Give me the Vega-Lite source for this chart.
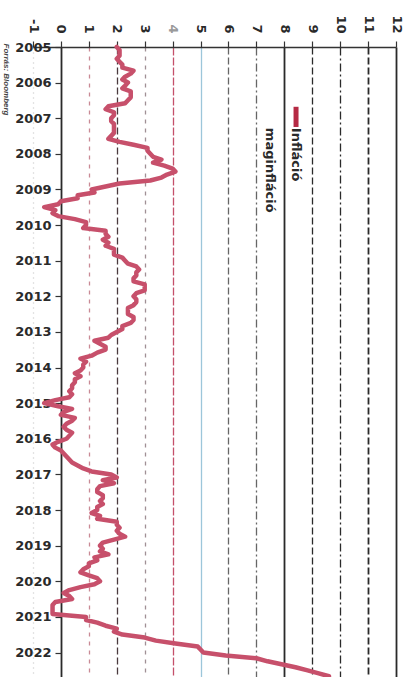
{
  "$schema": "https://vega.github.io/schema/vega-lite/v6.json",
  "autosize": "none",
  "width": 363,
  "height": 630,
  "padding": {"top": 47, "left": 33, "right": 13, "bottom": 0},
  "background": "white",
  "config": {"view": {"stroke": null}},
  "datasets": {
    "infl": [
      {"date":"2005-01-01","value":2.0},{"date":"2005-02-01","value":2.1},{"date":"2005-03-01","value":2.1},{"date":"2005-04-01","value":2.1},{"date":"2005-05-01","value":2.0},{"date":"2005-06-01","value":2.1},{"date":"2005-07-01","value":2.2},{"date":"2005-08-01","value":2.2},{"date":"2005-09-01","value":2.6},{"date":"2005-10-01","value":2.5},{"date":"2005-11-01","value":2.3},{"date":"2005-12-01","value":2.2},
      {"date":"2006-01-01","value":2.4},{"date":"2006-02-01","value":2.3},{"date":"2006-03-01","value":2.2},{"date":"2006-04-01","value":2.5},{"date":"2006-05-01","value":2.5},{"date":"2006-06-01","value":2.5},{"date":"2006-07-01","value":2.4},{"date":"2006-08-01","value":2.3},{"date":"2006-09-01","value":1.7},{"date":"2006-10-01","value":1.6},{"date":"2006-11-01","value":1.9},{"date":"2006-12-01","value":1.9},
      {"date":"2007-01-01","value":1.8},{"date":"2007-02-01","value":1.8},{"date":"2007-03-01","value":1.9},{"date":"2007-04-01","value":1.9},{"date":"2007-05-01","value":1.9},{"date":"2007-06-01","value":1.9},{"date":"2007-07-01","value":1.8},{"date":"2007-08-01","value":1.7},{"date":"2007-09-01","value":2.1},{"date":"2007-10-01","value":2.6},{"date":"2007-11-01","value":3.1},{"date":"2007-12-01","value":3.1},
      {"date":"2008-01-01","value":3.2},{"date":"2008-02-01","value":3.3},{"date":"2008-03-01","value":3.6},{"date":"2008-04-01","value":3.3},{"date":"2008-05-01","value":3.7},{"date":"2008-06-01","value":4.0},{"date":"2008-07-01","value":4.1},{"date":"2008-08-01","value":3.8},{"date":"2008-09-01","value":3.6},{"date":"2008-10-01","value":3.2},{"date":"2008-11-01","value":2.1},{"date":"2008-12-01","value":1.6},
      {"date":"2009-01-01","value":1.1},{"date":"2009-02-01","value":1.2},{"date":"2009-03-01","value":0.6},{"date":"2009-04-01","value":0.6},{"date":"2009-05-01","value":0.0},{"date":"2009-06-01","value":-0.1},{"date":"2009-07-01","value":-0.6},{"date":"2009-08-01","value":-0.2},{"date":"2009-09-01","value":-0.3},{"date":"2009-10-01","value":-0.1},{"date":"2009-11-01","value":0.5},{"date":"2009-12-01","value":0.9},
      {"date":"2010-01-01","value":0.9},{"date":"2010-02-01","value":0.8},{"date":"2010-03-01","value":1.6},{"date":"2010-04-01","value":1.6},{"date":"2010-05-01","value":1.7},{"date":"2010-06-01","value":1.5},{"date":"2010-07-01","value":1.7},{"date":"2010-08-01","value":1.6},{"date":"2010-09-01","value":1.9},{"date":"2010-10-01","value":1.9},{"date":"2010-11-01","value":1.9},{"date":"2010-12-01","value":2.2},
      {"date":"2011-01-01","value":2.3},{"date":"2011-02-01","value":2.4},{"date":"2011-03-01","value":2.7},{"date":"2011-04-01","value":2.8},{"date":"2011-05-01","value":2.7},{"date":"2011-06-01","value":2.7},{"date":"2011-07-01","value":2.6},{"date":"2011-08-01","value":2.6},{"date":"2011-09-01","value":3.0},{"date":"2011-10-01","value":3.0},{"date":"2011-11-01","value":3.0},{"date":"2011-12-01","value":2.7},
      {"date":"2012-01-01","value":2.6},{"date":"2012-02-01","value":2.7},{"date":"2012-03-01","value":2.7},{"date":"2012-04-01","value":2.6},{"date":"2012-05-01","value":2.4},{"date":"2012-06-01","value":2.4},{"date":"2012-07-01","value":2.4},{"date":"2012-08-01","value":2.6},{"date":"2012-09-01","value":2.6},{"date":"2012-10-01","value":2.5},{"date":"2012-11-01","value":2.2},{"date":"2012-12-01","value":2.2},
      {"date":"2013-01-01","value":2.0},{"date":"2013-02-01","value":1.8},{"date":"2013-03-01","value":1.7},{"date":"2013-04-01","value":1.2},{"date":"2013-05-01","value":1.4},{"date":"2013-06-01","value":1.6},{"date":"2013-07-01","value":1.6},{"date":"2013-08-01","value":1.3},{"date":"2013-09-01","value":1.1},{"date":"2013-10-01","value":0.7},{"date":"2013-11-01","value":0.9},{"date":"2013-12-01","value":0.8},
      {"date":"2014-01-01","value":0.8},{"date":"2014-02-01","value":0.7},{"date":"2014-03-01","value":0.5},{"date":"2014-04-01","value":0.7},{"date":"2014-05-01","value":0.5},{"date":"2014-06-01","value":0.5},{"date":"2014-07-01","value":0.4},{"date":"2014-08-01","value":0.4},{"date":"2014-09-01","value":0.3},{"date":"2014-10-01","value":0.4},{"date":"2014-11-01","value":0.3},{"date":"2014-12-01","value":-0.2},
      {"date":"2015-01-01","value":-0.6},{"date":"2015-02-01","value":-0.1},{"date":"2015-03-01","value":0.4},{"date":"2015-04-01","value":0.1},{"date":"2015-05-01","value":0.0},{"date":"2015-06-01","value":0.5},{"date":"2015-07-01","value":0.4},{"date":"2015-08-01","value":0.2},{"date":"2015-09-01","value":0.1},{"date":"2015-10-01","value":0.2},{"date":"2015-11-01","value":0.4},{"date":"2015-12-01","value":0.3},
      {"date":"2016-01-01","value":0.2},{"date":"2016-02-01","value":-0.1},{"date":"2016-03-01","value":-0.3},{"date":"2016-04-01","value":-0.2},{"date":"2016-05-01","value":0.0},{"date":"2016-06-01","value":0.1},{"date":"2016-07-01","value":0.2},{"date":"2016-08-01","value":0.3},{"date":"2016-09-01","value":0.4},{"date":"2016-10-01","value":0.6},{"date":"2016-11-01","value":0.8},{"date":"2016-12-01","value":1.1},
      {"date":"2017-01-01","value":1.8},{"date":"2017-02-01","value":2.0},{"date":"2017-03-01","value":1.5},{"date":"2017-04-01","value":1.9},{"date":"2017-05-01","value":1.4},{"date":"2017-06-01","value":1.3},{"date":"2017-07-01","value":1.3},{"date":"2017-08-01","value":1.5},{"date":"2017-09-01","value":1.5},{"date":"2017-10-01","value":1.4},{"date":"2017-11-01","value":1.5},{"date":"2017-12-01","value":1.3},
      {"date":"2018-01-01","value":1.3},{"date":"2018-02-01","value":1.1},{"date":"2018-03-01","value":1.4},{"date":"2018-04-01","value":1.3},{"date":"2018-05-01","value":2.0},{"date":"2018-06-01","value":2.0},{"date":"2018-07-01","value":2.1},{"date":"2018-08-01","value":2.0},{"date":"2018-09-01","value":2.1},{"date":"2018-10-01","value":2.3},{"date":"2018-11-01","value":1.9},{"date":"2018-12-01","value":1.5},
      {"date":"2019-01-01","value":1.4},{"date":"2019-02-01","value":1.5},{"date":"2019-03-01","value":1.4},{"date":"2019-04-01","value":1.7},{"date":"2019-05-01","value":1.2},{"date":"2019-06-01","value":1.3},{"date":"2019-07-01","value":1.0},{"date":"2019-08-01","value":1.0},{"date":"2019-09-01","value":0.8},{"date":"2019-10-01","value":0.7},{"date":"2019-11-01","value":1.0},{"date":"2019-12-01","value":1.3},
      {"date":"2020-01-01","value":1.4},{"date":"2020-02-01","value":1.2},{"date":"2020-03-01","value":0.7},{"date":"2020-04-01","value":0.3},{"date":"2020-05-01","value":0.1},{"date":"2020-06-01","value":0.3},{"date":"2020-07-01","value":0.4},{"date":"2020-08-01","value":-0.2},{"date":"2020-09-01","value":-0.3},{"date":"2020-10-01","value":-0.3},{"date":"2020-11-01","value":-0.3},{"date":"2020-12-01","value":-0.3},
      {"date":"2021-01-01","value":0.9},{"date":"2021-02-01","value":0.9},{"date":"2021-03-01","value":1.3},{"date":"2021-04-01","value":1.6},{"date":"2021-05-01","value":2.0},{"date":"2021-06-01","value":1.9},{"date":"2021-07-01","value":2.2},{"date":"2021-08-01","value":3.0},{"date":"2021-09-01","value":3.4},{"date":"2021-10-01","value":4.1},{"date":"2021-11-01","value":4.9},{"date":"2021-12-01","value":5.0},
      {"date":"2022-01-01","value":5.1},{"date":"2022-02-01","value":5.9},{"date":"2022-03-01","value":7.0},{"date":"2022-04-01","value":7.4},{"date":"2022-05-01","value":7.9},{"date":"2022-06-01","value":8.4},{"date":"2022-07-01","value":8.8},{"date":"2022-08-01","value":9.2},{"date":"2022-09-01","value":9.6}
    ]
  },
  "layer": [
    {
      "data": {"name": "infl"},
      "mark": {"type": "line", "color": "#c7506b", "strokeWidth": 4.5, "strokeJoin": "round", "strokeCap": "round"},
      "encoding": {
        "x": {
          "field": "value", "type": "quantitative",
          "scale": {"domain": [-1, 12], "nice": false, "zero": false},
          "axis": {
            "orient": "top", "title": null,
            "values": [-1, 0, 1, 2, 3, 4, 5, 6, 7, 8, 9, 10, 11, 12],
            "tickCount": 30,
            "labelExpr": "'' + datum.value",
            "labelAngle": 90, "labelAlign": "right", "labelBaseline": "middle",
            "labelFont": "DejaVu Sans", "labelFontWeight": "bold", "labelFontSize": 13,
            "labelColor": {"condition": {"test": "datum.value === 4", "value": "#9a9a9a"}, "value": "#2a2a2a"},
            "labelPadding": 8, "labelFlush": false, "labelOverlap": false,
            "tickSize": 6, "tickColor": "#333333", "tickWidth": 1.2,
            "domainColor": "#333333", "domainWidth": 1.5,
            "grid": true,
            "gridColor": {"condition": [
              {"test": "datum.value === -1", "value": "#c8c8c8"},
              {"test": "datum.value === 1", "value": "#c98a95"},
              {"test": "datum.value === 2", "value": "#4a3a3e"},
              {"test": "datum.value === 3", "value": "#a09095"},
              {"test": "datum.value === 4", "value": "#c4506a"},
              {"test": "datum.value === 5", "value": "#9cc6da"},
              {"test": "datum.value === 6 || datum.value === 7", "value": "#666666"}
            ], "value": "#2a2a2a"},
            "gridDash": {"condition": [
              {"test": "datum.value === -1", "value": [1, 4]},
              {"test": "datum.value === 0 || datum.value === 8 || datum.value === 12 || datum.value === 5", "value": []},
              {"test": "datum.value === 7 || datum.value === 10", "value": [8, 3, 2, 3]},
              {"test": "datum.value === 4", "value": [8, 2]},
              {"test": "datum.value === 1 || datum.value === 3", "value": [4, 5]}
            ], "value": [7, 3]},
            "gridWidth": {"condition": {"test": "datum.value === 0 || datum.value === 8 || datum.value === 12 || datum.value === 11", "value": 1.8}, "value": 1.3},
            "gridOpacity": 1
          }
        },
        "y": {
          "field": "date", "type": "temporal",
          "scale": {"type": "utc", "reverse": true, "domain": [{"year": 2005, "month": 1, "date": 1, "utc": true}, {"year": 2022, "month": 9, "date": 9, "utc": true}]},
          "axis": {
            "orient": "left", "offset": -28, "domain": false, "grid": false,
            "tickCount": {"interval": "year", "step": 1}, "format": "%Y",
            "labelFont": "DejaVu Sans", "labelFontWeight": "bold", "labelFontSize": 13, "labelColor": "#2a2a2a",
            "labelPadding": 4, "labelFlush": false, "labelOverlap": false,
            "tickSize": 6, "tickColor": "#333333", "tickWidth": 1.2,
            "title": "Forrás: Bloomberg", "titleAngle": 90, "titleX": -56, "titleY": -4,
            "titleAlign": "left", "titleBaseline": "middle",
            "titleFont": "Liberation Sans", "titleFontStyle": "italic", "titleFontWeight": "bold", "titleFontSize": 8, "titleColor": "#444444"
          }
        },
        "order": {"field": "date", "type": "temporal"}
      }
    },
    {
      "data": {"values": [{"series": "Infláció"}]},
      "mark": {"type": "rule", "color": "#b52a44", "strokeWidth": 5},
      "encoding": {
        "x": {"datum": 8.42, "type": "quantitative"},
        "y": {"datum": {"year": 2006, "month": 9, "date": 6, "utc": true}, "type": "temporal"},
        "y2": {"datum": {"year": 2007, "month": 4, "date": 1, "utc": true}}
      }
    },
    {
      "data": {"values": [{"label": "Infláció"}]},
      "mark": {"type": "text", "angle": 90, "align": "left", "baseline": "middle", "font": "DejaVu Sans", "fontWeight": "bold", "fontSize": 13, "color": "#2a2a2a"},
      "encoding": {
        "x": {"datum": 8.42, "type": "quantitative"},
        "y": {"datum": {"year": 2007, "month": 4, "date": 10, "utc": true}, "type": "temporal"},
        "text": {"field": "label"}
      }
    },
    {
      "data": {"values": [{"label": "maginfláció"}]},
      "mark": {"type": "text", "angle": 90, "align": "left", "baseline": "middle", "font": "DejaVu Sans", "fontWeight": "bold", "fontSize": 13, "color": "#2a2a2a"},
      "encoding": {
        "x": {"datum": 7.49, "type": "quantitative"},
        "y": {"datum": {"year": 2007, "month": 4, "date": 10, "utc": true}, "type": "temporal"},
        "text": {"field": "label"}
      }
    }
  ]
}
